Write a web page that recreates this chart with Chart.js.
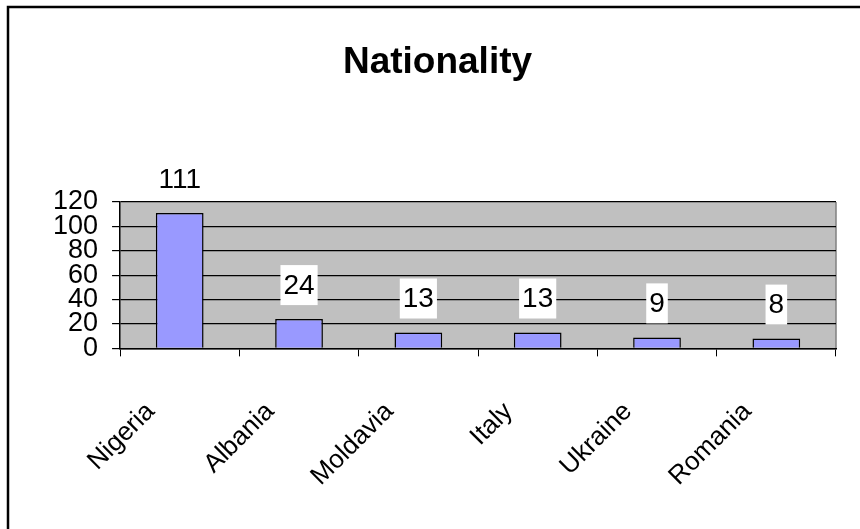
<!DOCTYPE html>
<html>
<head>
<meta charset="utf-8">
<script src="https://cdn.jsdelivr.net/npm/chart.js@4.4.1/dist/chart.umd.min.js"></script>
<style>
  html, body { margin: 0; padding: 0; background: #fff; }
  #wrap { width: 860px; height: 529px; position: relative; }
</style>
</head>
<body>
<div id="wrap"><canvas id="chart"></canvas></div>
<script>
// ===== DATA =====
const countries = ['Nigeria', 'Albania', 'Moldavia', 'Italy', 'Ukraine', 'Romania'];
const counts = [111, 24, 13, 13, 9, 8];
const yTicks = [0, 20, 40, 60, 80, 100, 120];

const FONT = '"Liberation Sans", Arial, sans-serif';

// grey plot area + frame around the whole chart
const frame = {
    id: 'frame',
    beforeDraw(chart) {
        const { ctx, chartArea: a } = chart;
        ctx.save();
        ctx.fillStyle = '#C0C0C0';
        ctx.fillRect(a.left, a.top, a.right - a.left, a.bottom - a.top);
        ctx.strokeStyle = '#808080';
        ctx.lineWidth = 1.5;
        ctx.beginPath();
        ctx.moveTo(a.right, a.top);
        ctx.lineTo(a.right, a.bottom);
        ctx.stroke();
        ctx.strokeStyle = '#000';
        ctx.lineWidth = 2.5;
        ctx.strokeRect(8, 7, 880, 560);
        ctx.restore();
    }
};

// value labels on white boxes above each bar
const valueLabels = {
    id: 'valueLabels',
    afterDatasetsDraw(chart) {
        const { ctx } = chart;
        const meta = chart.getDatasetMeta(0);
        ctx.save();
        ctx.font = '28px ' + FONT;
        ctx.textAlign = 'center';
        ctx.textBaseline = 'middle';
        meta.data.forEach((bar, i) => {
            const txt = String(counts[i]);
            const w = ctx.measureText(txt).width + 6;
            const cy = bar.y - 34;
            ctx.fillStyle = '#fff';
            ctx.fillRect(bar.x - w / 2, cy - 20, w, 40);
            ctx.fillStyle = '#000';
            ctx.fillText(txt, bar.x, cy + 1);
        });
        ctx.restore();
    }
};

new Chart(document.getElementById('chart'), {
    type: 'bar',
    data: {
        labels: countries,
        datasets: [{
            data: counts,
            backgroundColor: '#9999FF',
            borderColor: '#000',
            borderWidth: 1.5,
            barPercentage: 0.4,
            categoryPercentage: 1
        }]
    },
    options: {
        responsive: true,
        maintainAspectRatio: false,
        animation: false,
        layout: { padding: { left: 39, right: 24, top: 0, bottom: -3 } },
        plugins: {
            legend: { display: false },
            tooltip: { enabled: false },
            title: {
                display: true,
                text: 'Nationality',
                color: '#000',
                font: { family: FONT, size: 37, weight: 'bold', lineHeight: 1.2 },
                padding: { top: 41, bottom: 116.6 }
            }
        },
        scales: {
            x: {
                grid: { display: true, drawOnChartArea: false, drawTicks: true, tickLength: 8, color: '#000', offset: true },
                border: { display: true, color: '#000', width: 1.5 },
                ticks: {
                    color: '#000',
                    font: { family: FONT, size: 26, lineHeight: 1.2 },
                    minRotation: 45,
                    maxRotation: 45,
                    autoSkip: false,
                    padding: 40,
                    labelOffset: -29
                }
            },
            y: {
                min: 0,
                max: 120,
                afterBuildTicks(scale) { scale.ticks = yTicks.map(v => ({ value: v })); },
                grid: { color: '#000', lineWidth: 1.2, tickLength: 8, drawTicks: true },
                border: { display: true, color: '#000', width: 1.5 },
                ticks: {
                    color: '#000',
                    autoSkip: false,
                    padding: 14,
                    font: { family: FONT, size: 27, lineHeight: 1.2 }
                }
            }
        }
    },
    plugins: [frame, valueLabels]
});
</script>
</body>
</html>
